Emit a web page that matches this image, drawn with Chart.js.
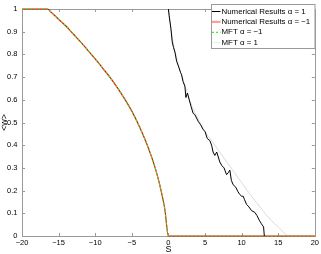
<!DOCTYPE html>
<html>
<head>
<meta charset="utf-8">
<script src="https://cdn.jsdelivr.net/npm/chart.js@4/dist/chart.umd.min.js"></script>
<style>
html,body{margin:0;padding:0;background:#fff;}
#wrap{width:321px;height:254px;position:relative;}
</style>
</head>
<body>
<div id="wrap"><canvas id="c" width="321" height="254"></canvas></div>
<script>
// Numerical Results alpha = 1
const numPosS = [0,0.1,0.34,0.52,0.7,0.89,1.12,1.4,1.66,1.8,2.0,2.25,2.39,2.6,2.84,3.1,3.38,3.6,4.07,4.4,4.75,5.0,5.3,5.66,5.9,6.1,6.34,6.6,7.02,7.3,7.6,7.94,8.2,8.39,8.6,8.84,9.2,9.5,9.75,10.0,10.2,10.4,10.66,11.0,11.35,11.8,12.1,12.4,12.7,13.0,13.1];
const numPosW = [1.0,0.97,0.914,0.855,0.83,0.81,0.77,0.745,0.72,0.71,0.68,0.66,0.61,0.63,0.60,0.57,0.54,0.535,0.505,0.49,0.469,0.46,0.43,0.42,0.40,0.37,0.355,0.37,0.326,0.31,0.30,0.27,0.28,0.29,0.245,0.226,0.215,0.195,0.183,0.175,0.176,0.16,0.14,0.128,0.112,0.104,0.09,0.07,0.054,0.04,0];
// Numerical Results alpha = -1 and MFT alpha = -1 (overlapping)
const negS = [-20,-16.5,-16,-15,-14,-13,-12,-11,-10,-9,-8,-7,-6,-5,-4,-3,-2,-1.5,-1,-0.5,0,20];
const numNegW = [1,1,0.985,0.955,0.925,0.89,0.855,0.818,0.78,0.74,0.70,0.655,0.605,0.55,0.485,0.41,0.32,0.265,0.20,0.12,0,0];
const mftNegW = [1,1,0.985,0.955,0.925,0.89,0.855,0.818,0.78,0.74,0.70,0.655,0.605,0.55,0.485,0.41,0.32,0.265,0.20,0.12,0,0];
// MFT alpha = 1
const mftPosS = [0,0.5,1,2,3,4,5,6,7,8,9,10,11,12,13,14,15,16.5,20];
const mftPosW = [1,0.88,0.8,0.69,0.59,0.52,0.46,0.415,0.37,0.325,0.28,0.235,0.19,0.148,0.108,0.07,0.04,0,0];
const xTicks = [-20,-15,-10,-5,0,5,10,15,20];
const yTicks = [0,0.1,0.2,0.3,0.4,0.5,0.6,0.7,0.8,0.9,1];
const labels = ['Numerical Results \u03b1 = 1','Numerical Results \u03b1 = \u22121','MFT \u03b1 = \u22121','MFT \u03b1 = 1'];

const pts = (xs, ys) => xs.map((x, i) => ({x: x, y: ys[i]}));
const AXIS = '#9a9a9a';
const FONT = '"Liberation Sans", Arial, sans-serif';

const boxPlugin = {
  id: 'box',
  beforeDatasetsDraw(chart) {
    const ctx = chart.ctx, a = chart.chartArea;
    const xs = chart.scales.x, ys = chart.scales.y;
    ctx.save();
    ctx.strokeStyle = AXIS; ctx.lineWidth = 1;
    ctx.strokeRect(Math.round(a.left) + 0.5, Math.round(a.top) + 0.5, Math.round(a.right - a.left), Math.round(a.bottom - a.top));
    ctx.beginPath();
    xTicks.forEach(v => {
      const p = Math.round(xs.getPixelForValue(v)) + 0.5;
      ctx.moveTo(p, a.bottom); ctx.lineTo(p, a.bottom - 3);
      ctx.moveTo(p, a.top); ctx.lineTo(p, a.top + 3);
    });
    yTicks.forEach(v => {
      const p = Math.round(ys.getPixelForValue(v)) + 0.5;
      ctx.moveTo(a.left, p); ctx.lineTo(a.left + 3, p);
      ctx.moveTo(a.right, p); ctx.lineTo(a.right - 3, p);
    });
    ctx.stroke();
    ctx.restore();
  },
  afterDraw(chart) {
    const ctx = chart.ctx;
    ctx.save();
    const lx = 211.5, ly = 4.5, lw = 103.5, lh = 44;
    ctx.fillStyle = '#fff';
    ctx.fillRect(lx, ly, lw, lh);
    ctx.strokeStyle = AXIS; ctx.lineWidth = 1;
    ctx.strokeRect(lx, ly, lw, lh);
    const rows = [11, 21.4, 31.8, 42.2];
    ctx.font = '7.9px ' + FONT;
    ctx.textBaseline = 'middle';
    ctx.textAlign = 'left';
    [0, 1, 2, 3].forEach((di, k) => {
      const ds = chart.data.datasets[di];
      const y = rows[k];
      ctx.save();
      ctx.strokeStyle = ds.legendColor || ds.borderColor;
      ctx.lineWidth = ds.legendWidth || ds.borderWidth;
      ctx.setLineDash(ds.borderDash || []);
      ctx.beginPath();
      ctx.moveTo(212, y + 0.5); ctx.lineTo(220.5, y + 0.5);
      ctx.stroke();
      ctx.restore();
      ctx.fillStyle = '#000';
      ctx.fillText(ds.label, 221.5, y + 0.5);
    });
    ctx.restore();
  }
};

new Chart(document.getElementById('c'), {
  type: 'line',
  data: {
    datasets: [
      {label: labels[0], data: pts(numPosS, numPosW), borderColor: '#000', borderWidth: 1, pointRadius: 0, order: 0, clip: 2},
      {label: labels[1], data: pts(negS, numNegW), borderColor: '#ff0000', borderWidth: 1.2, legendColor: 'rgba(255,90,90,0.6)', legendWidth: 2.2, pointRadius: 0, order: 2, clip: 2, cubicInterpolationMode: 'monotone'},
      {label: labels[2], data: pts(negS, mftNegW), borderColor: '#33ee33', borderWidth: 1.2, borderDash: [2, 2], pointRadius: 0, order: 1, clip: 2, cubicInterpolationMode: 'monotone'},
      {label: labels[3], data: pts(mftPosS, mftPosW), borderColor: '#d2d2d2', borderWidth: 0.8, legendColor: '#e4e4e4', pointRadius: 0, order: 3, clip: 2, cubicInterpolationMode: 'monotone'}
    ]
  },
  options: {
    responsive: false,
    animation: false,
    devicePixelRatio: 1,
    layout: {padding: {top: 3, right: 6, left: 0, bottom: 0}, autoPadding: false},
    plugins: {legend: {display: false}, tooltip: {enabled: false}},
    elements: {line: {tension: 0}},
    scales: {
      x: {
        type: 'linear', min: -20, max: 20,
        afterBuildTicks: s => { s.ticks = xTicks.map(v => ({value: v})); },
        afterFit: s => { s.height = 18; },
        grid: {display: false, drawTicks: false},
        border: {display: false},
        ticks: {
          font: {family: FONT, size: 7.5}, color: '#000', padding: 2, maxRotation: 0, autoSkip: false,
          callback: v => (v < 0 ? '\u2212' + Math.abs(v) : String(v))
        },
        title: {display: true, text: 'S', font: {family: FONT, size: 9, lineHeight: 1}, color: '#000', padding: 0}
      },
      y: {
        type: 'linear', min: 0, max: 1,
        afterBuildTicks: s => { s.ticks = yTicks.map(v => ({value: v})); },
        afterFit: s => { s.width = 22; },
        grid: {display: false, drawTicks: false},
        border: {display: false},
        ticks: {
          font: {family: FONT, size: 7.5}, color: '#000', padding: 4.5, autoSkip: false,
          callback: v => String(Math.round(v * 10) / 10)
        },
        title: {display: true, text: '<w>', font: {family: FONT, size: 9, lineHeight: 1}, color: '#000', padding: 0}
      }
    }
  },
  plugins: [boxPlugin]
});
</script>
</body>
</html>
